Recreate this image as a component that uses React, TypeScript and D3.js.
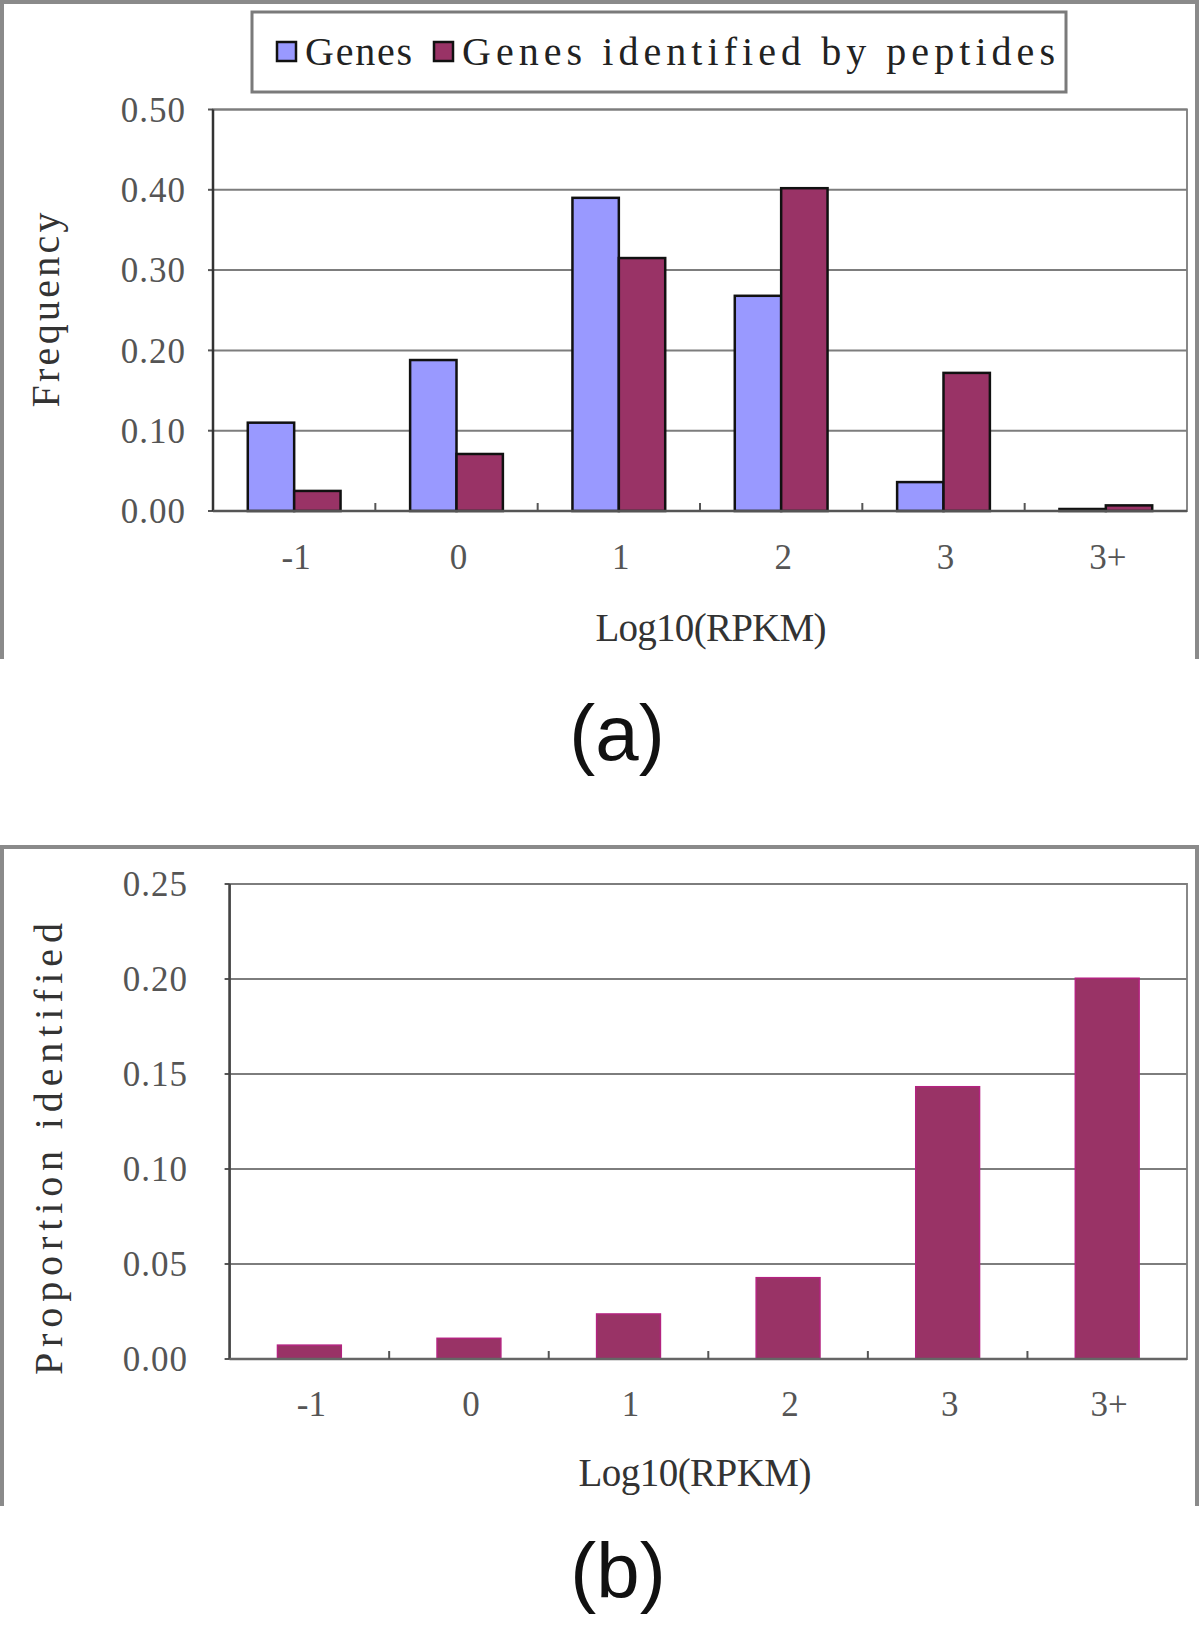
import React from "react";
import * as d3 from "d3";

const categories = ["-1", "0", "1", "2", "3", "3+"];
const genes = [0.11, 0.188, 0.39, 0.268, 0.036, 0.0025];
const genesByPeptides = [0.025, 0.071, 0.315, 0.402, 0.172, 0.007];
const proportionIdentified = [0.0073, 0.0109, 0.0237, 0.0428, 0.1433, 0.2004];
const ticksA = [0, 0.1, 0.2, 0.3, 0.4, 0.5];
const ticksB = [0, 0.05, 0.1, 0.15, 0.2, 0.25];
const seriesNames = ["Genes", "Genes identified by peptides"];
const seriesColors = ["#9999FF", "#993366"];

const SERIF = "'Liberation Serif', 'DejaVu Serif', serif";
const SANS = "'Liberation Sans', Arial, sans-serif";
const fmt = d3.format(".2f");

export default function App() {
  // Panel (a)
  const xA = d3.scaleBand<string>().domain(categories).range([213, 1187]).paddingInner(0).paddingOuter(0);
  const xSub = d3
    .scaleBand<string>()
    .domain(seriesNames)
    .range([0, xA.bandwidth()])
    .paddingInner(0)
    .paddingOuter(0.75);
  const yA = d3.scaleLinear().domain([0, 0.5]).range([511, 109.5]);
  const seriesA = [genes, genesByPeptides];

  // Panel (b)
  const xB = d3.scaleBand<string>().domain(categories).range([229.6, 1187]).paddingInner(0.6).paddingOuter(0.3);
  const xBfull = d3.scaleBand<string>().domain(categories).range([229.6, 1187]).padding(0);
  const yB = d3.scaleLinear().domain([0, 0.25]).range([1359, 884]);

  const boundariesA = d3.range(1, categories.length).map((i) => xA(categories[i]) as number);
  const boundariesB = d3.range(1, categories.length).map((i) => xBfull(categories[i]) as number);

  const [a0, a1] = xA.range();
  const [b0, b1] = xB.range();

  return (
    <svg
      width={1200}
      height={1636}
      style={{ position: "absolute", left: 0, top: 0, background: "#fff" }}
    >
      <rect x={0} y={0} width={1200} height={1636} fill="#fff" />

      {/* ---------- Panel (a) ---------- */}
      <path d="M2,659 L2,2 L1197,2 L1197,659" fill="none" stroke="#8a8a8a" strokeWidth={4} />
      {/* legend */}
      <rect x={252} y={12} width={814} height={80} fill="#fff" stroke="#7a7a7a" strokeWidth={3} />
      <rect x={277} y={42} width={19} height={19} fill={seriesColors[0]} stroke="#111" strokeWidth={2.5} />
      <text x={305} y={65} fontFamily={SERIF} fontSize={40} fill="#222" textLength={107} lengthAdjust="spacing">
        {seriesNames[0]}
      </text>
      <rect x={434} y={42} width={19} height={19} fill={seriesColors[1]} stroke="#111" strokeWidth={2.5} />
      <text x={462} y={65} fontFamily={SERIF} fontSize={40} fill="#222" textLength={593} lengthAdjust="spacing">
        {seriesNames[1]}
      </text>

      {/* plot area */}
      <rect x={a0} y={yA(0.5)} width={a1 - a0} height={yA(0) - yA(0.5)} fill="#fff" stroke="#888" strokeWidth={2} />
      {ticksA.slice(1).map((t) => (
        <line key={t} x1={a0} x2={a1} y1={yA(t)} y2={yA(t)} stroke="#7d7d7d" strokeWidth={2} />
      ))}
      {ticksA.map((t) => (
        <line key={"tk" + t} x1={a0 - 5} x2={a0} y1={yA(t)} y2={yA(t)} stroke="#555" strokeWidth={2} />
      ))}
      {categories.map((c, i) =>
        seriesA.map((vals, s) => (
          <rect
            key={c + s}
            x={(xA(c) as number) + (xSub(seriesNames[s]) as number)}
            y={yA(vals[i])}
            width={xSub.bandwidth()}
            height={yA(0) - yA(vals[i])}
            fill={seriesColors[s]}
            stroke="#111"
            strokeWidth={2.5}
          />
        ))
      )}
      <line x1={a0} x2={a0} y1={yA(0.5)} y2={yA(0)} stroke="#333" strokeWidth={2.5} />
      <line x1={a0} x2={a1} y1={yA(0)} y2={yA(0)} stroke="#555" strokeWidth={2.5} />
      {boundariesA.map((bx, i) => (
        <line key={"bA" + i} x1={bx} x2={bx} y1={yA(0)} y2={yA(0) - 8} stroke="#555" strokeWidth={2} />
      ))}
      {ticksA.map((t) => (
        <text
          key={"lA" + t}
          x={186}
          y={yA(t)}
          dy="0.35em"
          textAnchor="end"
          fontFamily={SERIF}
          fontSize={35}
          letterSpacing={1}
          fill="#555"
        >
          {fmt(t)}
        </text>
      ))}
      {categories.map((c) => (
        <text
          key={"cA" + c}
          x={(xA(c) as number) + xA.bandwidth() / 2 + 2}
          y={569}
          textAnchor="middle"
          fontFamily={SERIF}
          fontSize={35}
          fill="#555"
        >
          {c}
        </text>
      ))}
      <text x={711} y={641} textAnchor="middle" fontFamily={SERIF} fontSize={39} fill="#333" textLength={231} lengthAdjust="spacing">
        Log10(RPKM)
      </text>
      <text
        transform="translate(59,310) rotate(-90)"
        textAnchor="middle"
        fontFamily={SERIF}
        fontSize={40}
        fill="#333"
        textLength={195}
        lengthAdjust="spacing"
      >
        Frequency
      </text>
      <text x={617} y={760} textAnchor="middle" fontFamily={SANS} fontSize={78} fill="#111">
        (a)
      </text>

      {/* ---------- Panel (b) ---------- */}
      <path d="M2,1506 L2,847 L1197,847 L1197,1506" fill="none" stroke="#8a8a8a" strokeWidth={4} />
      <rect x={b0} y={yB(0.25)} width={b1 - b0} height={yB(0) - yB(0.25)} fill="#fff" stroke="#888" strokeWidth={2} />
      {ticksB.slice(1).map((t) => (
        <line key={"gB" + t} x1={b0} x2={b1} y1={yB(t)} y2={yB(t)} stroke="#7d7d7d" strokeWidth={2} />
      ))}
      {ticksB.map((t) => (
        <line key={"tkB" + t} x1={b0 - 5} x2={b0} y1={yB(t)} y2={yB(t)} stroke="#555" strokeWidth={2} />
      ))}
      {categories.map((c, i) => (
        <rect
          key={"barB" + c}
          x={xB(c) as number}
          y={yB(proportionIdentified[i])}
          width={xB.bandwidth()}
          height={yB(0) - yB(proportionIdentified[i])}
          fill="#993366"
          stroke="#b3237f"
          strokeWidth={1.5}
        />
      ))}
      <line x1={b0} x2={b0} y1={yB(0.25)} y2={yB(0)} stroke="#444" strokeWidth={2.5} />
      <line x1={b0} x2={b1} y1={yB(0)} y2={yB(0)} stroke="#666" strokeWidth={2.5} />
      {boundariesB.map((bx, i) => (
        <line key={"bB" + i} x1={bx} x2={bx} y1={yB(0)} y2={yB(0) - 8} stroke="#555" strokeWidth={2} />
      ))}
      {ticksB.map((t) => (
        <text
          key={"lB" + t}
          x={188}
          y={yB(t)}
          dy="0.35em"
          textAnchor="end"
          fontFamily={SERIF}
          fontSize={35}
          letterSpacing={1}
          fill="#555"
        >
          {fmt(t)}
        </text>
      ))}
      {categories.map((c) => (
        <text
          key={"cB" + c}
          x={(xBfull(c) as number) + xBfull.bandwidth() / 2 + 2}
          y={1416}
          textAnchor="middle"
          fontFamily={SERIF}
          fontSize={35}
          fill="#555"
        >
          {c}
        </text>
      ))}
      <text x={695} y={1486} textAnchor="middle" fontFamily={SERIF} fontSize={39} fill="#333" textLength={233} lengthAdjust="spacing">
        Log10(RPKM)
      </text>
      <text
        transform="translate(62,1149) rotate(-90)"
        textAnchor="middle"
        fontFamily={SERIF}
        fontSize={40}
        fill="#333"
        textLength={452}
        lengthAdjust="spacing"
      >
        Proportion identified
      </text>
      <text x={618} y={1598} textAnchor="middle" fontFamily={SANS} fontSize={78} fill="#111">
        (b)
      </text>
    </svg>
  );
}
